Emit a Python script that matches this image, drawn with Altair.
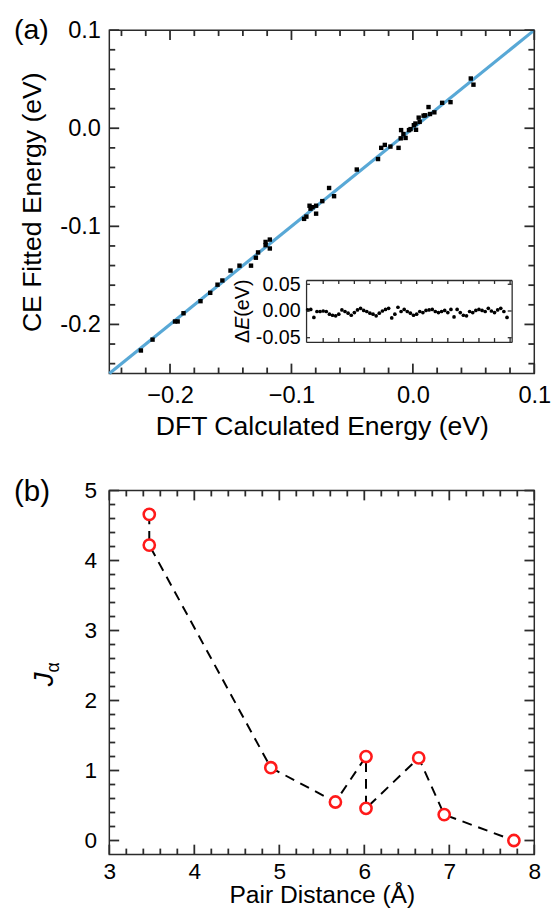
import altair as alt
import pandas as pd

# ---------------- data: panel (a) ----------------
dft_energy = [0.0477, 0.0499, 0.0310, 0.0241, 0.0129, 0.0177, 0.0141, 0.0101, 0.0088, 0.0048,
              0.0056, 0.0021, 0.0008, -0.0019, -0.0032, 0.0026, -0.0097, -0.0078, -0.0100, -0.0060,
              -0.0185, -0.0231, -0.0261, -0.0118, -0.0287, -0.0462, -0.0690, -0.0649, -0.0746, -0.0797,
              -0.0851, -0.0826, -0.0843, -0.0797, -0.0877, -0.0896, -0.1178, -0.1213, -0.1213, -0.1178,
              -0.1275, -0.1293, -0.1333, -0.1428, -0.1502, -0.1569, -0.1609, -0.1669, -0.1749, -0.1889,
              -0.1937, -0.1959, -0.2144, -0.2240]
ce_energy = [0.0507, 0.0444, 0.0266, 0.0259, 0.0216, 0.0162, 0.0145, 0.0132, 0.0128, 0.0108,
             0.0065, 0.0048, 0.0031, -0.0009, -0.0019, -0.0016, -0.0019, -0.0059, -0.0103, -0.0099,
             -0.0187, -0.0170, -0.0200, -0.0200, -0.0314, -0.0421, -0.0609, -0.0693, -0.0743, -0.0790,
             -0.0790, -0.0805, -0.0820, -0.0871, -0.0901, -0.0924, -0.1135, -0.1159, -0.1192, -0.1226,
             -0.1266, -0.1320, -0.1401, -0.1401, -0.1451, -0.1552, -0.1595, -0.1678, -0.1763, -0.1886,
             -0.1970, -0.1970, -0.2155, -0.2266]
diag_x = [-0.25, 0.1]
diag_y = [-0.25, 0.1]
inset_dE = [0.002, 0.003, -0.012, -0.001, -0.001, 0.000, -0.001, -0.006, -0.008, -0.009,
            -0.006, 0.002, -0.001, -0.004, -0.008, -0.003, 0.002, 0.005, 0.001, -0.001,
            -0.004, -0.006, -0.009, -0.004, 0.000, 0.003, 0.005, -0.013, -0.006, 0.007,
            -0.001, 0.003, -0.001, -0.004, -0.008, -0.006, -0.001, -0.003, 0.001, 0.002,
            0.003, -0.001, -0.003, -0.001, 0.001, -0.003, 0.003, -0.011, 0.003, -0.003,
            -0.008, -0.009, -0.001, -0.003, 0.001, 0.003, 0.001, -0.001, 0.005, 0.000,
            -0.003, 0.002, 0.005, -0.001, -0.012]
a_major = [-0.2, -0.1, 0.0, 0.1]
a_minor = [-0.24, -0.22, -0.18, -0.16, -0.14, -0.12, -0.08, -0.06, -0.04, -0.02,
           0.02, 0.04, 0.06, 0.08]
inset_y_ticks = [-0.05, 0.0, 0.05]
inset_x_ticks = [5, 10, 15, 20, 25, 30, 35, 40, 45, 50, 55, 60, 65]

# ---------------- data: panel (b) ----------------
pair_dist = [3.47, 3.47, 4.90, 5.66, 6.02, 6.02, 6.64, 6.94, 7.76]
j_alpha = [4.66, 4.22, 1.04, 0.55, 1.20, 0.46, 1.18, 0.37, 0.0]
b_x_major = [3, 4, 5, 6, 7, 8]
b_x_minor = [3.2, 3.4, 3.6, 3.8, 4.2, 4.4, 4.6, 4.8, 5.2, 5.4, 5.6, 5.8,
             6.2, 6.4, 6.6, 6.8, 7.2, 7.4, 7.6, 7.8]
b_y_major = [0, 1, 2, 3, 4, 5]
b_y_minor = [0.2, 0.4, 0.6, 0.8, 1.2, 1.4, 1.6, 1.8, 2.2, 2.4, 2.6, 2.8,
             3.2, 3.4, 3.6, 3.8, 4.2, 4.4, 4.6, 4.8]

# ---------------- style / layout ----------------
FONT = "Liberation Sans"
FRAME = "#2b2b2b"
TW = 1.8
LBL = 24
TTL = 27
W_A, H_A = 432, 349
W_B, H_B = 432, 370
INS_L, INS_R, INS_T, INS_B = 200, 409, 254, 317
MAJ, MIN = 10, 6

XD_A, YD_A = [-0.25, 0.1], [-0.25, 0.1]
XD_I, YD_I = [-0.5, 65.5], [-0.058, 0.058]
XD_B, YD_B = [3, 8], [-0.2, 5]

df_a = pd.DataFrame({"x": dft_energy, "y": ce_energy})
df_diag = pd.DataFrame({"x": diag_x, "y": diag_y})
df_ins = pd.DataFrame({"i": list(range(len(inset_dE))), "d": inset_dE})
df_b = pd.DataFrame({"x": pair_dist, "y": j_alpha, "k": list(range(len(pair_dist)))})

sx_a = alt.Scale(domain=XD_A, nice=False, zero=False)
sy_a = alt.Scale(domain=YD_A, nice=False, zero=False)
sx_i = alt.Scale(domain=XD_I, nice=False, zero=False, range=[INS_L, INS_R])
sy_i = alt.Scale(domain=YD_I, nice=False, zero=False, range=[INS_B, INS_T])
sx_b = alt.Scale(domain=XD_B, nice=False, zero=False)
sy_b = alt.Scale(domain=YD_B, nice=False, zero=False)

HY = "replace(format(datum.value, '%s'), '\u2212', '-')"


def lab_axis(orient, values, title=None, fmt=None, expr=None, pad=10, tpad=10, size=LBL,
             tsize=TTL):
    kw = dict(orient=orient, values=values, title=title, ticks=False, domain=False, grid=False,
              labelFont=FONT, labelFontSize=size, labelColor="black", labelPadding=pad,
              labelFlush=False, labelOverlap=False, titleFont=FONT, titleFontSize=tsize,
              titleFontWeight="normal", titleColor="black", titlePadding=tpad)
    if fmt:
        kw["format"] = fmt
    if expr:
        kw["labelExpr"] = expr
    return alt.Axis(**kw)


def dom_axis(orient, base, labels=False, values=None, expr=None):
    kw = dict(orient=orient, title=None, labels=labels, ticks=False, domain=True,
              domainColor=FRAME, domainWidth=1.3, grid=False, offset=-base, minExtent=0)
    if values is not None:
        kw["values"] = values
    if labels:
        kw.update(labelFont=FONT, labelFontSize=20, labelColor="black", labelPadding=6)
    if expr:
        kw["labelExpr"] = expr
    return alt.Axis(**kw)


def layer(data, mark, xs, ys, xa, ya, xf="x", yf="y", extra=None):
    c = alt.Chart(data)
    if mark is None:
        c = c.mark_point(opacity=0)
    else:
        c = getattr(c, mark[0])(**mark[1])
    e = dict(x=alt.X(f"{xf}:Q", scale=xs, axis=xa), y=alt.Y(f"{yf}:Q", scale=ys, axis=ya))
    if extra:
        e.update(extra)
    return c.encode(**e)


def tick_layer(values, side, length, xs, ys, xd, yd, pw, ph, width=TW):
    """Inward tick marks (tick mark type), centred half a tick length inside the frame edge."""
    n = len(values)
    if side in ("bottom", "top"):
        d = length * (yd[1] - yd[0]) / ph
        c = yd[0] + d / 2 if side == "bottom" else yd[1] - d / 2
        df = pd.DataFrame({"v": values, "c": [c] * n})
        return alt.Chart(df).mark_tick(orient="vertical", size=length, thickness=width,
                                       color=FRAME, opacity=1).encode(
            x=alt.X("v:Q", scale=xs, axis=None), y=alt.Y("c:Q", scale=ys, axis=None))
    d = length * (xd[1] - xd[0]) / pw
    c = xd[0] + d / 2 if side == "left" else xd[1] - d / 2
    df = pd.DataFrame({"v": values, "c": [c] * n})
    return alt.Chart(df).mark_tick(orient="horizontal", size=length, thickness=width,
                                   color=FRAME, opacity=1).encode(
        y=alt.Y("v:Q", scale=ys, axis=None), x=alt.X("c:Q", scale=xs, axis=None))


def frame_ticks(xmaj, xmin, ymaj, ymin, xs, ys, xd, yd, pw, ph, big=MAJ, small=MIN, width=TW):
    out = []
    for side in ("bottom", "top"):
        out.append(tick_layer(xmaj, side, big, xs, ys, xd, yd, pw, ph, width))
        if xmin:
            out.append(tick_layer(xmin, side, small, xs, ys, xd, yd, pw, ph, width))
    for side in ("left", "right"):
        out.append(tick_layer(ymaj, side, big, xs, ys, xd, yd, pw, ph, width))
        if ymin:
            out.append(tick_layer(ymin, side, small, xs, ys, xd, yd, pw, ph, width))
    return out


def text_layer(txt, x, y, size, angle=0, style="normal", align="left", baseline="top"):
    kw = dict(font=FONT, fontSize=size, fontStyle=style, align=align, baseline=baseline,
              color="black")
    if angle:
        kw["angle"] = angle
    return alt.Chart(pd.DataFrame({"t": [txt]})).mark_text(**kw).encode(
        text="t:N", x=alt.value(x), y=alt.value(y))


# ---------------- panel (a) ----------------
a_layers = [
    layer(df_diag, ("mark_line", dict(color="#58a8d6", strokeWidth=3.2)), sx_a, sy_a,
          lab_axis("bottom", a_major, "DFT Calculated Energy (eV)", fmt=".1f", pad=11, tpad=6),
          lab_axis("left", a_major, "CE Fitted Energy (eV)", expr=HY % ".1f", pad=9, tpad=14)),
    layer(df_a, ("mark_square", dict(color="black", size=20, opacity=1)), sx_a, sy_a, None, None),
    # inset
    layer(df_ins, ("mark_circle", dict(color="black", size=14, opacity=1)), sx_i, sy_i,
          dom_axis("bottom", H_A - INS_B),
          dom_axis("left", INS_L, labels=True, values=inset_y_ticks, expr=HY % ".2f"),
          xf="i", yf="d"),
    layer(df_ins, None, sx_i, sy_i, dom_axis("top", INS_T), dom_axis("right", W_A - INS_R),
          xf="i", yf="d"),
    *frame_ticks(inset_x_ticks, None, inset_y_ticks, None, sx_i, sy_i, XD_I, YD_I,
                 INS_R - INS_L, INS_B - INS_T, big=4, width=1.3),
    *frame_ticks(a_major, a_minor, a_major, a_minor, sx_a, sy_a, XD_A, YD_A, W_A, H_A),
    text_layer("(a)", -97, -14, 29),
    text_layer("\u0394", 142, 318, 20, angle=270, baseline="alphabetic"),
    text_layer("E", 142, 304.6, 20, angle=270, style="italic", baseline="alphabetic"),
    text_layer("(eV)", 142, 291.3, 20, angle=270, baseline="alphabetic"),
]
panel_a = alt.layer(*a_layers).resolve_scale(x="independent", y="independent").resolve_axis(
    x="independent", y="independent").properties(width=W_A, height=H_A)

# ---------------- panel (b) ----------------
b_layers = [
    layer(df_b, ("mark_line", dict(color="black", strokeWidth=2, strokeDash=[10, 7])), sx_b, sy_b,
          lab_axis("bottom", b_x_major, "Pair Distance (\u00c5)", fmt="d", pad=6, tpad=0,
                   size=23, tsize=25),
          lab_axis("left", b_y_major, None, fmt="d", pad=13, size=23),
          extra=dict(order=alt.Order("k:Q"))),
    layer(df_b, ("mark_point", dict(shape="circle", size=130, filled=True, fill="white",
                                     stroke="#ff1a1a", strokeWidth=2.6, opacity=1, fillOpacity=1)),
          sx_b, sy_b, None, None),
    *frame_ticks(b_x_major, b_x_minor, b_y_major, b_y_minor, sx_b, sy_b, XD_B, YD_B, W_B, H_B),
    text_layer("(b)", -97, -13, 30),
    text_layer("J", -57, 199, 28, angle=270, style="italic", baseline="alphabetic"),
    text_layer("\u03b1", -51, 185, 18, angle=270, baseline="alphabetic"),
]
panel_b = alt.layer(*b_layers).resolve_scale(x="independent", y="independent").resolve_axis(
    x="independent", y="independent").properties(width=W_B, height=H_B)

chart = alt.vconcat(panel_a, panel_b, spacing=37).properties(
    padding={"left": 5, "top": 0, "right": 0, "bottom": 0},
    background="white",
).configure_view(stroke=FRAME, strokeWidth=1.5)

chart.save("out.html", embed_options={"renderer": "svg", "actions": False})
